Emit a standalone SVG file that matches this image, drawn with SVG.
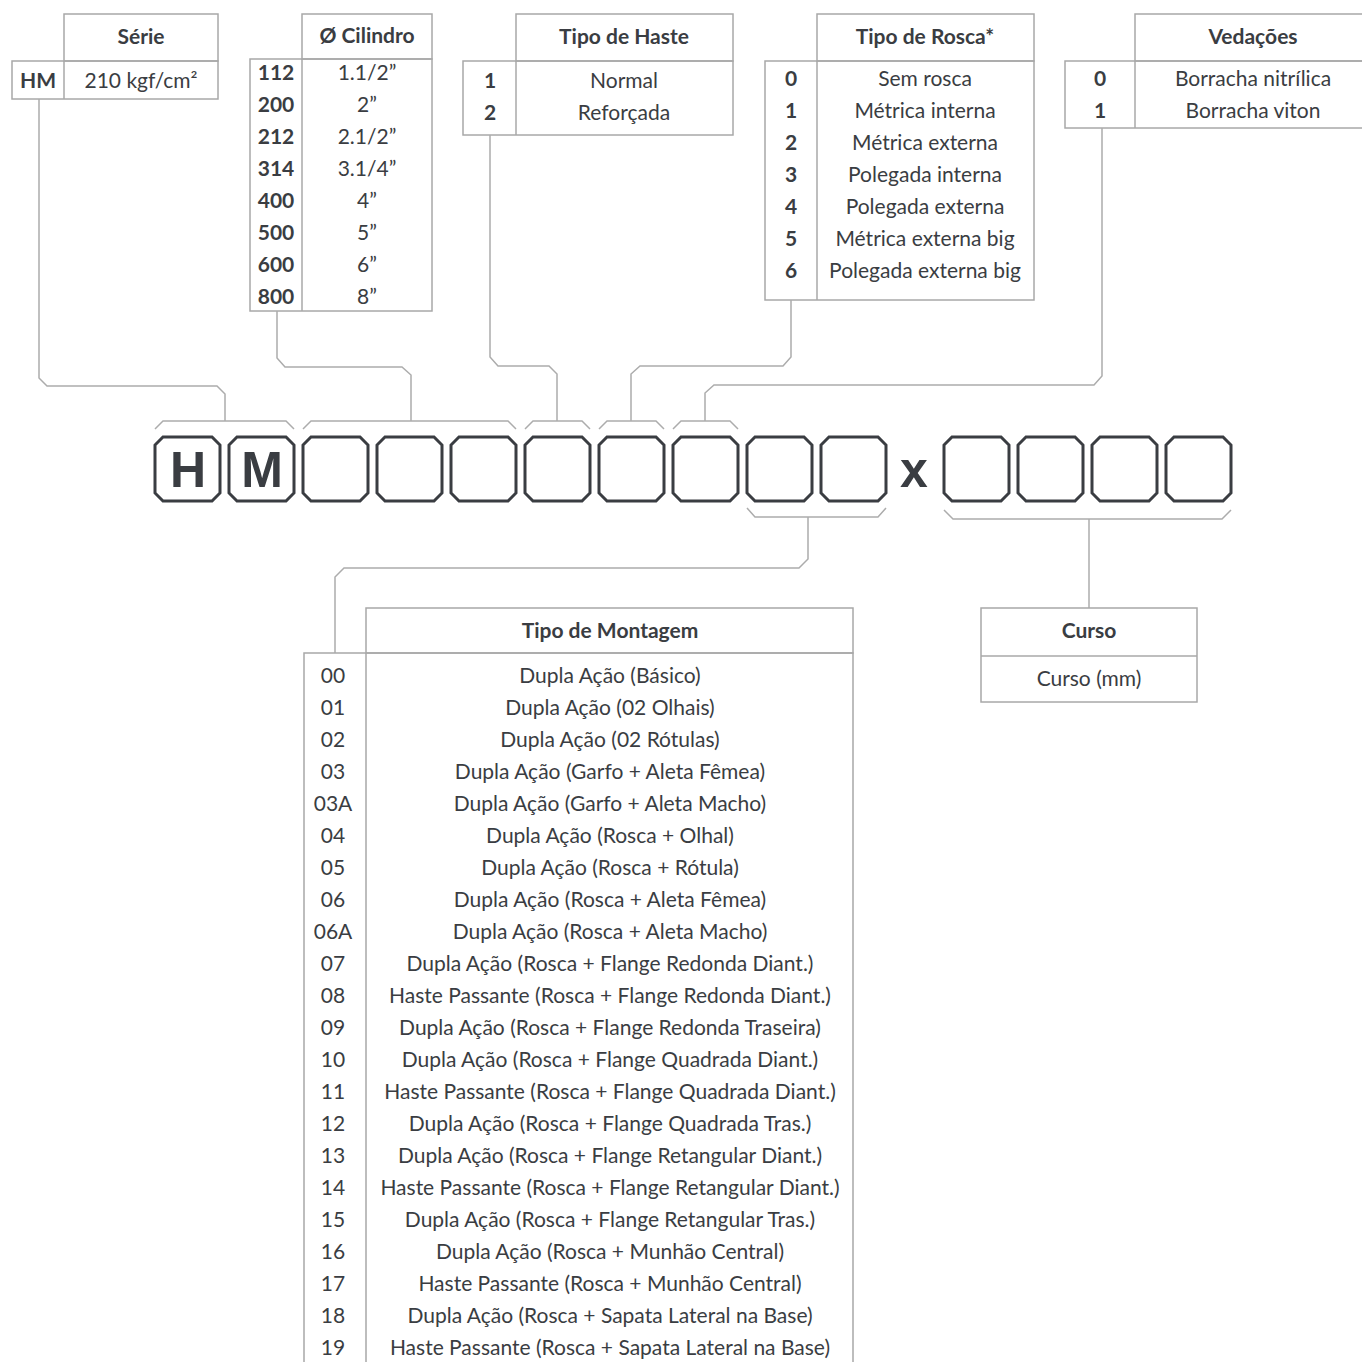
<svg xmlns="http://www.w3.org/2000/svg" width="1362" height="1362" viewBox="0 0 1362 1362">
<style>
.bg{fill:#ffffff}
.tb{fill:none;stroke:#a8a8a8;stroke-width:1.5}
.cn{fill:none;stroke:#acacac;stroke-width:1.5}
.bx{fill:#ffffff;stroke:#3a3d42;stroke-width:3}
.t{font-family:Lato,"Open Sans","Liberation Sans",sans-serif;font-size:21px;fill:#3a3d42;text-anchor:middle;dominant-baseline:central}
.b{font-weight:700}
.big{font-family:"Liberation Sans",Arial,sans-serif;font-weight:700;font-size:50px;fill:#3a3d42;text-anchor:middle;dominant-baseline:central}
</style>
<defs>
<path id="box" d="M8,0 H57 L65,8 V56 L57,64 H8 L0,56 V8 Z"/>
</defs>
<rect class="bg" x="0" y="0" width="1362" height="1362"/>

<g id="serie">
<rect class="tb" x="64" y="14" width="154" height="47"/>
<rect class="tb" x="12" y="61" width="206" height="38"/>
<line class="tb" x1="64" y1="61" x2="64" y2="99"/>
<text class="t b" x="141" y="35">Série</text>
<text class="t b" x="38" y="79">HM</text>
<text class="t" x="141" y="79">210 kgf/cm²</text>
</g>

<g id="cilindro">
<rect class="tb" x="302" y="14" width="130" height="45"/>
<rect class="tb" x="250" y="59" width="182" height="252"/>
<line class="tb" x1="302" y1="59" x2="302" y2="311"/>
<text class="t b" x="367" y="34">Ø Cilindro</text>
<text class="t b" x="276" y="71">112</text><text class="t" x="367" y="71">1.1/2”</text>
<text class="t b" x="276" y="103">200</text><text class="t" x="367" y="103">2”</text>
<text class="t b" x="276" y="135">212</text><text class="t" x="367" y="135">2.1/2”</text>
<text class="t b" x="276" y="167">314</text><text class="t" x="367" y="167">3.1/4”</text>
<text class="t b" x="276" y="199">400</text><text class="t" x="367" y="199">4”</text>
<text class="t b" x="276" y="231">500</text><text class="t" x="367" y="231">5”</text>
<text class="t b" x="276" y="263">600</text><text class="t" x="367" y="263">6”</text>
<text class="t b" x="276" y="295">800</text><text class="t" x="367" y="295">8”</text>
</g>

<g id="haste">
<rect class="tb" x="516" y="14" width="217" height="47"/>
<rect class="tb" x="463" y="61" width="270" height="74"/>
<line class="tb" x1="516" y1="61" x2="516" y2="135"/>
<text class="t b" x="624" y="35">Tipo de Haste</text>
<text class="t b" x="490" y="79">1</text><text class="t" x="624" y="79">Normal</text>
<text class="t b" x="490" y="111">2</text><text class="t" x="624" y="111">Reforçada</text>
</g>

<g id="rosca">
<rect class="tb" x="817" y="14" width="217" height="47"/>
<rect class="tb" x="765" y="61" width="269" height="239"/>
<line class="tb" x1="817" y1="61" x2="817" y2="300"/>
<text class="t b" x="925" y="35">Tipo de Rosca*</text>
<text class="t b" x="791" y="77">0</text><text class="t" x="925" y="77">Sem rosca</text>
<text class="t b" x="791" y="109">1</text><text class="t" x="925" y="109">Métrica interna</text>
<text class="t b" x="791" y="141">2</text><text class="t" x="925" y="141">Métrica externa</text>
<text class="t b" x="791" y="173">3</text><text class="t" x="925" y="173">Polegada interna</text>
<text class="t b" x="791" y="205">4</text><text class="t" x="925" y="205">Polegada externa</text>
<text class="t b" x="791" y="237">5</text><text class="t" x="925" y="237">Métrica externa big</text>
<text class="t b" x="791" y="269">6</text><text class="t" x="925" y="269">Polegada externa big</text>
</g>

<g id="vedacoes">
<rect class="tb" x="1135" y="14" width="240" height="47"/>
<rect class="tb" x="1065" y="61" width="310" height="67"/>
<line class="tb" x1="1135" y1="61" x2="1135" y2="128"/>
<text class="t b" x="1253" y="35">Vedações</text>
<text class="t b" x="1100" y="77">0</text><text class="t" x="1253" y="77">Borracha nitrílica</text>
<text class="t b" x="1100" y="109">1</text><text class="t" x="1253" y="109">Borracha viton</text>
</g>

<g id="connectors">
<path class="cn" d="M39,99 V378 L47,386 H217 L225,394 V421"/>
<path class="cn" d="M277,311 V358 L285,367 H402 L411,375 V421"/>
<path class="cn" d="M490,135 V357 L498,366 H549 L557,374 V421"/>
<path class="cn" d="M791,300 V357 L783,366 H640 L631,374 V421"/>
<path class="cn" d="M1102,128 V376 L1094,385 H714 L705,393 V421"/>
<path class="cn" d="M808,517 V559 L799,568 H344 L335,577 V653"/>
<path class="cn" d="M1089,519 V608"/>
<path class="cn" d="M155,429 L163,421 H286 L294,429"/>
<path class="cn" d="M303,429 L311,421 H508 L516,429"/>
<path class="cn" d="M525,429 L533,421 H582 L590,429"/>
<path class="cn" d="M599,429 L607,421 H656 L664,429"/>
<path class="cn" d="M673,429 L681,421 H730 L738,429"/>
<path class="cn" d="M747,508 L755,517 H878 L886,508"/>
<path class="cn" d="M944,510 L953,519 H1222 L1231,510"/>
</g>

<g id="code">
<use href="#box" class="bx" x="155" y="437"/>
<use href="#box" class="bx" x="229" y="437"/>
<use href="#box" class="bx" x="303" y="437"/>
<use href="#box" class="bx" x="377" y="437"/>
<use href="#box" class="bx" x="451" y="437"/>
<use href="#box" class="bx" x="525" y="437"/>
<use href="#box" class="bx" x="599" y="437"/>
<use href="#box" class="bx" x="673" y="437"/>
<use href="#box" class="bx" x="747" y="437"/>
<use href="#box" class="bx" x="821" y="437"/>
<use href="#box" class="bx" x="944" y="437"/>
<use href="#box" class="bx" x="1018" y="437"/>
<use href="#box" class="bx" x="1092" y="437"/>
<use href="#box" class="bx" x="1166" y="437"/>
<text class="big" x="188" y="470">H</text>
<text class="big" x="262" y="470">M</text>
<text class="big" x="914" y="470">x</text>
</g>

<g id="montagem">
<rect class="tb" x="366" y="608" width="487" height="45"/>
<path class="tb" d="M304,1370 V653 H853 V1370 M366,653 V1370"/>
<text class="t b" x="610" y="629">Tipo de Montagem</text>
<text class="t" x="333" y="674">00</text><text class="t" x="610" y="674">Dupla Ação (Básico)</text>
<text class="t" x="333" y="706">01</text><text class="t" x="610" y="706">Dupla Ação (02 Olhais)</text>
<text class="t" x="333" y="738">02</text><text class="t" x="610" y="738">Dupla Ação (02 Rótulas)</text>
<text class="t" x="333" y="770">03</text><text class="t" x="610" y="770">Dupla Ação (Garfo + Aleta Fêmea)</text>
<text class="t" x="333" y="802">03A</text><text class="t" x="610" y="802">Dupla Ação (Garfo + Aleta Macho)</text>
<text class="t" x="333" y="834">04</text><text class="t" x="610" y="834">Dupla Ação (Rosca + Olhal)</text>
<text class="t" x="333" y="866">05</text><text class="t" x="610" y="866">Dupla Ação (Rosca + Rótula)</text>
<text class="t" x="333" y="898">06</text><text class="t" x="610" y="898">Dupla Ação (Rosca + Aleta Fêmea)</text>
<text class="t" x="333" y="930">06A</text><text class="t" x="610" y="930">Dupla Ação (Rosca + Aleta Macho)</text>
<text class="t" x="333" y="962">07</text><text class="t" x="610" y="962">Dupla Ação (Rosca + Flange Redonda Diant.)</text>
<text class="t" x="333" y="994">08</text><text class="t" x="610" y="994">Haste Passante (Rosca + Flange Redonda Diant.)</text>
<text class="t" x="333" y="1026">09</text><text class="t" x="610" y="1026">Dupla Ação (Rosca + Flange Redonda Traseira)</text>
<text class="t" x="333" y="1058">10</text><text class="t" x="610" y="1058">Dupla Ação (Rosca + Flange Quadrada Diant.)</text>
<text class="t" x="333" y="1090">11</text><text class="t" x="610" y="1090">Haste Passante (Rosca + Flange Quadrada Diant.)</text>
<text class="t" x="333" y="1122">12</text><text class="t" x="610" y="1122">Dupla Ação (Rosca + Flange Quadrada Tras.)</text>
<text class="t" x="333" y="1154">13</text><text class="t" x="610" y="1154">Dupla Ação (Rosca + Flange Retangular Diant.)</text>
<text class="t" x="333" y="1186">14</text><text class="t" x="610" y="1186">Haste Passante (Rosca + Flange Retangular Diant.)</text>
<text class="t" x="333" y="1218">15</text><text class="t" x="610" y="1218">Dupla Ação (Rosca + Flange Retangular Tras.)</text>
<text class="t" x="333" y="1250">16</text><text class="t" x="610" y="1250">Dupla Ação (Rosca + Munhão Central)</text>
<text class="t" x="333" y="1282">17</text><text class="t" x="610" y="1282">Haste Passante (Rosca + Munhão Central)</text>
<text class="t" x="333" y="1314">18</text><text class="t" x="610" y="1314">Dupla Ação (Rosca + Sapata Lateral na Base)</text>
<text class="t" x="333" y="1346">19</text><text class="t" x="610" y="1346">Haste Passante (Rosca + Sapata Lateral na Base)</text>
</g>

<g id="curso">
<rect class="tb" x="981" y="608" width="216" height="94"/>
<line class="tb" x1="981" y1="656" x2="1197" y2="656"/>
<text class="t b" x="1089" y="629">Curso</text>
<text class="t" x="1089" y="677">Curso (mm)</text>
</g>
</svg>
